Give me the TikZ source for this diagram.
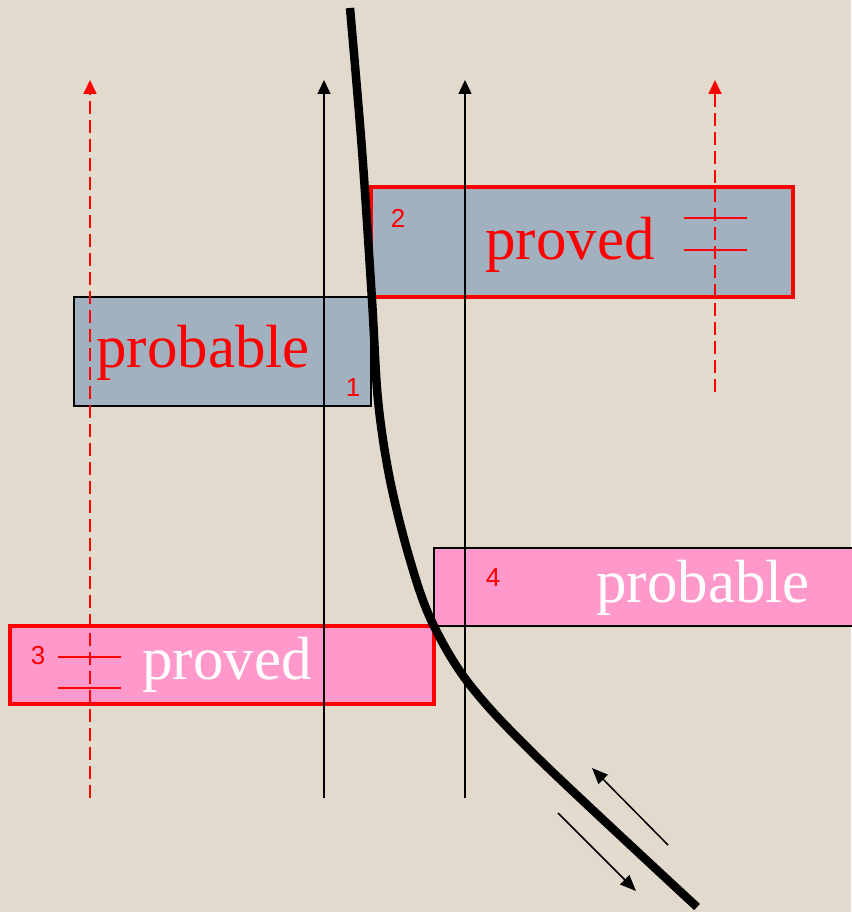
\documentclass[tikz,border=0pt]{standalone}
\usepackage{fontspec}
\setmainfont{Liberation Serif}
\newfontfamily\numfont{Liberation Sans}
\usetikzlibrary{arrows.meta}
\definecolor{bg}{HTML}{E2DACC}
\definecolor{grayblue}{HTML}{A2B1C0}
\definecolor{pinkfill}{HTML}{FF99CC}
\definecolor{myred}{HTML}{FF0000}
\tikzset{
  boxthin/.style={draw=black, line width=1.5pt, inner sep=0pt},
  boxthick/.style={draw=myred, line width=4pt, inner sep=0pt},
  bigtext/.style={font=\fontsize{61}{61}\selectfont, inner sep=0pt, anchor=base},
  numtext/.style={font=\numfont\fontsize{26}{26}\selectfont, text=myred, inner sep=0pt},
  vline/.style={draw=black, line width=1.5pt, -{Triangle[length=14pt,width=13pt]}},
  dline/.style={draw=myred, line width=1.8pt, dash pattern=on 13pt off 6pt, -{Triangle[length=14pt,width=13pt]}},
  tickline/.style={draw=myred, line width=1.8pt},
  smallarrow/.style={draw=black, line width=1.5pt, -{Triangle[length=16pt,width=13pt]}}
}
\begin{document}
\begin{tikzpicture}[x=1pt,y=-1pt]
\fill[bg] (0,0) rectangle (851,912);
\useasboundingbox (0,0) rectangle (851,912);
% boxes
\node[boxthin, fill=grayblue, minimum width=297pt, minimum height=109pt] (b1) at (222.5,351.5) {};
\node[boxthick, fill=grayblue, minimum width=422pt, minimum height=110pt] (b2) at (582,242) {};
\node[boxthin, fill=pinkfill, minimum width=440pt, minimum height=78pt] (b4) at (654,587) {};
\node[boxthick, fill=pinkfill, minimum width=424pt, minimum height=78pt] (b3) at (222,665) {};
% texts
\node[bigtext, text=myred] (t1) at (203,367) {probable};
\node[bigtext, text=myred] (t2) at (570,259) {proved};
\node[bigtext, text=white] (t4) at (703,602) {probable};
\node[bigtext, text=white] (t3) at (227,679) {proved};
\node[numtext] (n1) at (353,388) {1};
\node[numtext] (n2) at (398,218) {2};
\node[numtext] (n4) at (493,578) {4};
\node[numtext] (n3) at (38,656) {3};
% tick marks
\coordinate (k2a) at (684,218); \coordinate (k2b) at (747,218);
\coordinate (k2c) at (684,250); \coordinate (k2d) at (747,250);
\draw[tickline] (k2a) -- (k2b);
\draw[tickline] (k2c) -- (k2d);
\coordinate (k3a) at (58,657); \coordinate (k3b) at (121,657);
\coordinate (k3c) at (58,688); \coordinate (k3d) at (121,688);
\draw[tickline] (k3a) -- (k3b);
\draw[tickline] (k3c) -- (k3d);
% vertical lines
\coordinate (v1b) at (324,798); \coordinate (v1t) at (324,80);
\coordinate (v2b) at (465,798); \coordinate (v2t) at (465,80);
\coordinate (d1b) at (90,798); \coordinate (d1t) at (90,80);
\coordinate (d2b) at (715,392); \coordinate (d2t) at (715,80);
\draw[vline] (v1b) -- (v1t);
\draw[vline] (v2b) -- (v2t);
\draw[dline] (d1b) -- (d1t);
\draw[dline] (d2b) -- (d2t);
% small arrows
\coordinate (s1a) at (668,845); \coordinate (s1b) at (592,768);
\coordinate (s2a) at (558,813); \coordinate (s2b) at (636,891);
\draw[smallarrow] (s1a) -- (s1b);
\draw[smallarrow] (s2a) -- (s2b);
% thick curve
\draw[line width=8.5pt, black] plot[smooth, tension=0.55] coordinates {(350,8) (362,150) (372,300) (378,400) (390,480) (410,560) (432,622) (470,685) (540,760) (697,907)};
\end{tikzpicture}
\end{document}
